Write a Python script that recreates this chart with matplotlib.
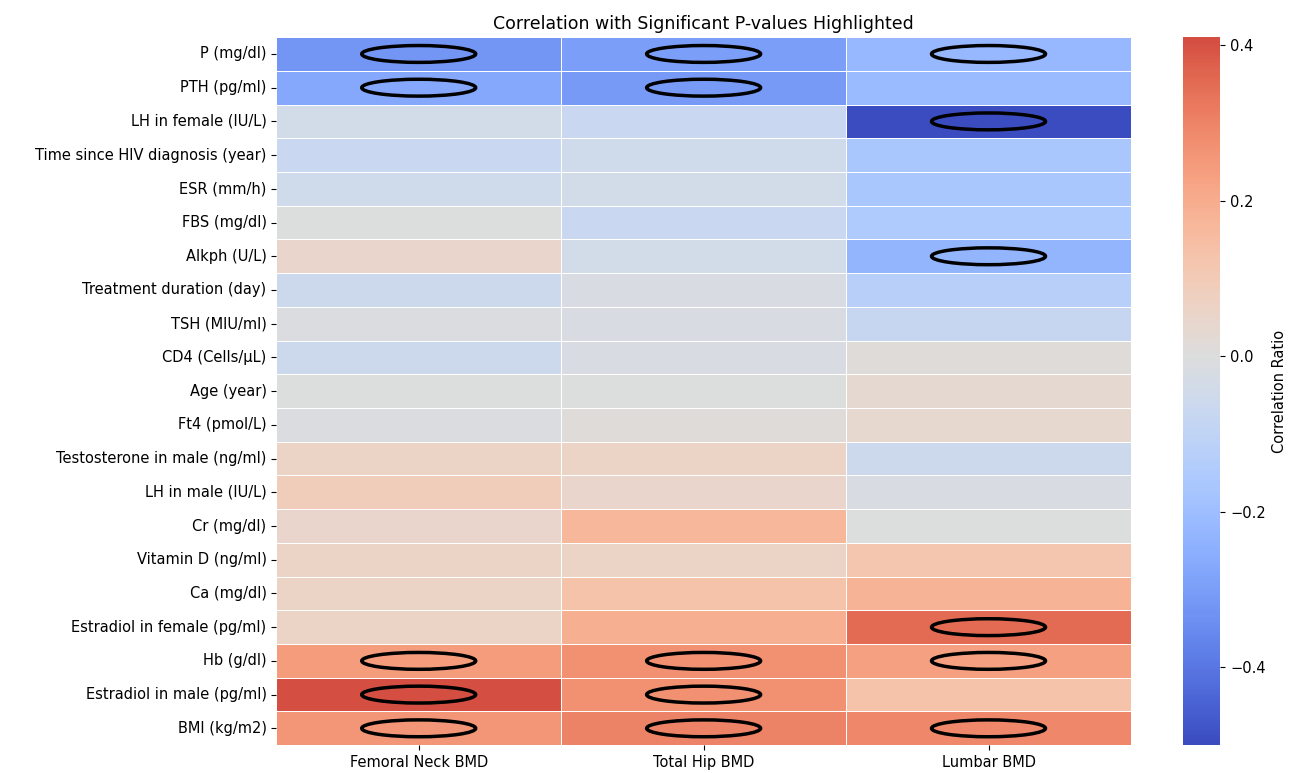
import numpy as np
import matplotlib
matplotlib.use("Agg")
import matplotlib.pyplot as plt
from matplotlib.patches import Ellipse
import seaborn as sns

# ---- data ----
variables = [
    "P (mg/dl)", "PTH (pg/ml)", "LH in female (IU/L)", "Time since HIV diagnosis (year)",
    "ESR (mm/h)", "FBS (mg/dl)", "Alkph (U/L)", "Treatment duration (day)",
    "TSH (MIU/ml)", "CD4 (Cells/\u00b5L)", "Age (year)", "Ft4 (pmol/L)",
    "Testosterone in male (ng/ml)", "LH in male (IU/L)", "Cr (mg/dl)", "Vitamin D (ng/ml)",
    "Ca (mg/dl)", "Estradiol in female (pg/ml)", "Hb (g/dl)", "Estradiol in male (pg/ml)",
    "BMI (kg/m2)",
]
sites = ["Femoral Neck BMD", "Total Hip BMD", "Lumbar BMD"]

femoral_neck = [-0.32, -0.27, -0.04, -0.07, -0.05, 0.00, 0.05, -0.06, -0.01, -0.06, 0.00,
                -0.01, 0.06, 0.09, 0.05, 0.06, 0.06, 0.06, 0.24, 0.41, 0.26]
total_hip = [-0.30, -0.31, -0.07, -0.05, -0.04, -0.07, -0.04, -0.02, -0.02, -0.02, 0.00,
             0.01, 0.06, 0.05, 0.17, 0.06, 0.13, 0.19, 0.27, 0.27, 0.30]
lumbar = [-0.22, -0.21, -0.50, -0.17, -0.17, -0.15, -0.23, -0.13, -0.08, 0.01, 0.03,
          0.04, -0.06, -0.02, 0.00, 0.12, 0.18, 0.35, 0.23, 0.13, 0.29]

# significant cells per column
sig_femoral_neck = ["P (mg/dl)", "PTH (pg/ml)", "Hb (g/dl)", "Estradiol in male (pg/ml)", "BMI (kg/m2)"]
sig_total_hip = ["P (mg/dl)", "PTH (pg/ml)", "Hb (g/dl)", "Estradiol in male (pg/ml)", "BMI (kg/m2)"]
sig_lumbar = ["P (mg/dl)", "LH in female (IU/L)", "Alkph (U/L)", "Estradiol in female (pg/ml)",
              "Hb (g/dl)", "BMI (kg/m2)"]

corr = np.column_stack([femoral_neck, total_hip, lumbar])

fig = plt.figure(figsize=(12.97, 7.73), dpi=100)
ax = fig.add_axes([0.213, 0.036, 0.659, 0.916])
cax = fig.add_axes([0.912, 0.036, 0.029, 0.916])

sns.heatmap(corr, ax=ax, cbar_ax=cax, cmap="coolwarm", center=0, linewidths=0.5,
            linecolor="white", xticklabels=sites, yticklabels=variables,
            cbar_kws={"label": "Correlation Ratio"})

for j, sig in enumerate([sig_femoral_neck, sig_total_hip, sig_lumbar]):
    for name in sig:
        i = variables.index(name)
        ax.add_patch(Ellipse((j + 0.5, i + 0.5), 0.4, 0.5, fill=False,
                             edgecolor="black", linewidth=2.5))

ax.set_title("Correlation with Significant P-values Highlighted", fontsize=12.5, pad=6)
ax.tick_params(axis="y", labelsize=10.5, rotation=0)
ax.tick_params(axis="x", labelsize=10.5, rotation=0)
cax.tick_params(labelsize=10.5)
cax.yaxis.label.set_size(10.5)
cax.set_yticks([-0.4, -0.2, 0.0, 0.2, 0.4])

fig.savefig("out.png", dpi=100)
